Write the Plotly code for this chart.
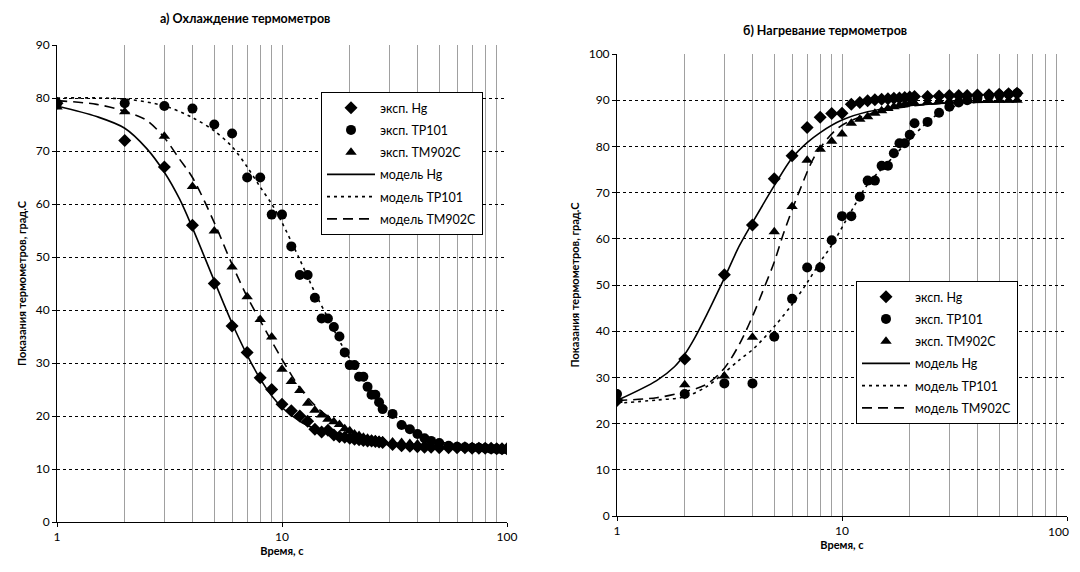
import plotly.graph_objects as go

# ---------------- data: a) cooling ----------------
t_cool = list(range(1, 29)) + [31, 34, 37, 40, 43, 46, 50, 55, 60, 65, 70, 75, 80, 85, 90, 95, 100]
hg_cool = [79, 72, 67, 56, 45, 37, 32, 27.2, 25, 22.2, 21, 20, 19, 17.5, 17, 17.3, 16.4, 16.1, 16, 15.8,
           15.6, 15.5, 15.4, 15.3, 15.3, 15.2, 15.1, 15,
           14.6, 14.4, 14.3, 14.2, 14.1, 14.1, 14.0, 14.0, 14.0, 14.0, 13.9, 13.9, 13.9, 13.9, 13.8, 13.8, 13.8]
tp_cool = [79, 79, 78.5, 78, 75, 73.3, 65, 65, 58, 58, 52, 46.6, 46.6, 42.3, 38.4, 38.4, 36.8, 35, 32, 29.6,
           29.6, 27.4, 27.4, 25.5, 24, 24, 22.6, 21.3,
           20.4, 18.3, 17.5, 16.6, 15.8, 15.3, 14.9, 14.4, 14.2, 14.1, 14.0, 14.0, 13.9, 13.8, 13.8, 13.7, 13.7]
tm_cool = [78.3, 77.4, 72.8, 63.3, 54.9, 48.1, 42.5, 38.2, 34.9, 28.8, 26.5, 24.8, 22.4, 21.1, 20.2, 19.4, 18.9,
           18.4, 17.6, 17.2, 16.6, 16.3, 16, 15.8, 15.6, 15.5, 15.4, 15.3,
           15.1, 15.0, 14.8, 14.7, 14.6, 14.5, 14.4, 14.3, 14.2, 14.2, 14.1, 14.1, 14.0, 14.0, 14.0, 13.9, 13.9]

tm_hg_cool = [1, 1.5, 2, 2.5, 3, 3.5, 4, 5, 6, 7, 8, 9, 10, 12, 14, 16, 20, 25, 30, 40, 50, 70, 100]
mod_hg_cool = [78.5, 76.5, 74.3, 70.5, 66, 61, 55.5, 45.5, 37.5, 31.5, 27, 23.8, 21.6, 19, 17.6, 16.7, 15.7,
               15, 14.6, 14.2, 14, 13.9, 13.8]
tm_tp_cool = [1, 2, 3, 4, 5, 6, 7, 8, 9, 10, 12, 14, 16, 18, 20, 25, 30, 35, 40, 50, 60, 80, 100]
mod_tp_cool = [80, 79.8, 78.5, 76.3, 73.8, 70.8, 67, 63.2, 60, 56.5, 49.5, 43.3, 38.5, 34.2, 30.8, 24.8, 21,
               18.5, 16.9, 15.2, 14.5, 14, 13.8]
tm_tm_cool = [1, 1.5, 2, 2.5, 3, 3.5, 4, 5, 6, 7, 8, 10, 12, 14, 16, 20, 25, 30, 40, 60, 100]
mod_tm_cool = [79.5, 78.8, 77.5, 75.8, 72.5, 68.5, 65, 56.5, 48.6, 42.5, 38, 30.7, 25.3, 22, 19.9, 17.3,
               15.8, 15.1, 14.5, 14.1, 13.8]

# ---------------- data: б) heating ----------------
t_heat = list(range(1, 21)) + [21, 24, 27, 30, 33, 36, 40, 45, 50, 55, 60]
hg_heat = [25, 34, 52.2, 63, 73, 78, 84.1, 86.3, 87.1, 87.2, 89.1, 89.5, 89.9, 90.1, 90.2, 90.3, 90.4, 90.5,
           90.6, 90.7, 90.8, 90.8, 90.9, 91, 91, 91, 91.1, 91.2, 91.3, 91.4, 91.5]
tp_heat = [26.4, 26.4, 28.7, 28.7, 38.8, 47, 53.8, 53.8, 59.7, 64.9, 64.9, 69.1, 72.6, 72.6, 75.8, 75.8, 78.5,
           80.7, 80.7, 82.5, 85, 85.3, 87.3, 88.6, 89.5, 90, 90.5, 90.9, 91.1, 91.3, 91.5]
tm_heat = [25, 28.4, 30.3, 38.7, 61.5, 67, 77, 79.4, 81.1, 82.7, 85, 85.9, 86.4, 87.2, 87.7, 88.2, 88.6, 88.9,
           89.1, 89.3, 89.4, 89.6, 89.8, 89.9, 90, 90, 90, 90, 90, 90, 90]

tm_hg_heat = [1, 1.5, 1.8, 2, 2.2, 2.5, 3, 3.5, 4, 5, 6, 7, 8, 10, 13, 18, 25, 35, 60]
mod_hg_heat = [25, 29.3, 32.3, 35, 38.3, 43.5, 51.5, 58.5, 63.5, 71.5, 77.5, 80.8, 83, 85.7, 87.5, 88.6, 89.2,
               89.5, 89.7]
tm_tp_heat = [1, 1.5, 2, 2.5, 3, 3.5, 4, 5, 6, 7, 8, 9, 11, 13, 16, 20, 25, 30, 40, 60]
mod_tp_heat = [24.4, 25.1, 25.8, 28, 31, 33.8, 36, 41, 45.8, 50.5, 55, 58.6, 66, 71.8, 76.5, 81.5, 86, 88.3,
               89.6, 90]
tm_tm_heat = [1, 1.5, 2, 2.5, 3, 3.5, 4, 4.5, 5, 5.5, 6.5, 7.7, 9.8, 12.9, 17, 20, 30, 60]
mod_tm_heat = [25, 25.6, 26.9, 28.5, 32, 37.2, 43.2, 49.3, 55, 61.2, 70.6, 78.5, 84.3, 86.8, 88.2, 88.7,
               89.4, 89.8]

x_ticks = [1, 10, 100]
x_ticklabels = ["1", "10", "100"]
names_exp = ["эксп. Hg", "эксп. TP101", "эксп. TM902C"]
names_mod = ["модель Hg", "модель TP101", "модель TM902C"]
symbols = ["diamond", "circle", "triangle-up"]
dashes = ["solid", "3px,4px", "10px,6px"]

FONT = "Lato"
OFF = 8                 # default body margin of the page
W, H = 1064, 555        # figure size so that the page fits the 1080x572 window

fig = go.Figure()

def add_panel(xa, ya, leg, exp_t, exp_vals, mod_ts, mod_vals):
    k = 0
    for name, sym, v in zip(names_exp, symbols, exp_vals):
        fig.add_trace(go.Scatter(x=exp_t, y=v, mode="markers", name=name, xaxis=xa, yaxis=ya, legend=leg,
                                 legendgroup=f"{leg}{k}",
                                 marker=dict(symbol=sym, size=10, color="black", line=dict(width=0))))
        k += 1
    for name, d, tt, v in zip(names_mod, dashes, mod_ts, mod_vals):
        fig.add_trace(go.Scatter(x=tt, y=v, mode="lines", name=name, xaxis=xa, yaxis=ya, legend=leg,
                                 legendgroup=f"{leg}{k}",
                                 line=dict(color="black", width=1.6, dash=d, shape="spline", smoothing=0.9)))
        k += 1

add_panel("x", "y", "legend", t_cool, [hg_cool, tp_cool, tm_cool],
          [tm_hg_cool, tm_tp_cool, tm_tm_cool], [mod_hg_cool, mod_tp_cool, mod_tm_cool])
add_panel("x2", "y2", "legend2", t_heat, [hg_heat, tp_heat, tm_heat],
          [tm_hg_heat, tm_tp_heat, tm_tm_heat], [mod_hg_heat, mod_tp_heat, mod_tm_heat])

minor_vals = [k * 10 ** e for e in range(0, 2) for k in range(2, 10)]

def xaxis(domain, anchor, ticktext):
    return dict(type="log", range=[0, 2], domain=domain, anchor=anchor, automargin=False,
                tickmode="array", tickvals=x_ticks, ticktext=ticktext,
                showgrid=True, gridcolor="#a0a0a0", gridwidth=1,
                minor=dict(tickmode="array", tickvals=minor_vals, showgrid=True, gridcolor="#a0a0a0",
                           gridwidth=1, ticks=""),
                showline=True, linecolor="black", linewidth=1, ticks="outside", ticklen=4,
                tickcolor="black", zeroline=False,
                tickfont=dict(family=FONT, size=12, color="black"),
                title=dict(text="<b>Время, с</b>", font=dict(family=FONT, size=11, color="black"), standoff=2))

def yaxis(domain, anchor, top):
    return dict(range=[0, top], domain=domain, anchor=anchor, dtick=10, tick0=0, automargin=False,
                showgrid=True, gridcolor="black", gridwidth=1, griddash="dot",
                showline=True, linecolor="black", linewidth=1, ticks="outside", ticklen=4,
                tickcolor="black", zeroline=False,
                tickfont=dict(family=FONT, size=12, color="black"),
                title=dict(text="<b>Показания термометров, град.С</b>",
                           font=dict(family=FONT, size=11, color="black"), standoff=6))

# plot-area boxes in window pixels (left, right, top, bottom)
L = (57, 507, 45, 522)
R = (617, 1067, 54, 516)

def px(x):
    return (x - OFF) / W

def py(y):
    return 1 - (y - OFF) / H

def dom_x(b):
    return [px(b[0]), px(b[1])]

def dom_y(b):
    return [py(b[3]), py(b[2])]

legend_common = dict(bgcolor="white", bordercolor="black", borderwidth=1,
                     font=dict(family=FONT, size=12.5, color="black"),
                     xanchor="left", yanchor="top", itemwidth=48, tracegroupgap=3)

right_ticktext = x_ticklabels[:2] + [""]

fig.update_layout(
    width=W, height=H, margin=dict(l=0, r=0, t=0, b=0, autoexpand=False),
    paper_bgcolor="white", plot_bgcolor="white",
    xaxis=xaxis(dom_x(L), "y", x_ticklabels), yaxis=yaxis(dom_y(L), "x", 90),
    xaxis2=xaxis(dom_x(R), "y2", right_ticktext), yaxis2=yaxis(dom_y(R), "x2", 100),
    legend=dict(x=px(321), y=py(92), **legend_common),
    legend2=dict(x=px(856), y=py(281), **legend_common),
    annotations=[
        dict(text="<b>а) Охлаждение термометров</b>", x=px(245), y=py(9), xref="paper", yref="paper",
             showarrow=False, font=dict(family=FONT, size=12.5, color="black"), xanchor="center", yanchor="top"),
        dict(text="<b>б) Нагревание термометров</b>", x=px(825), y=py(30), xref="paper", yref="paper",
             showarrow=False, font=dict(family=FONT, size=12.5, color="black"), xanchor="center", yanchor="middle"),
        dict(text=x_ticklabels[2], x=1.0, y=py(531), xref="paper", yref="paper", showarrow=False,
             font=dict(family=FONT, size=12, color="black"), xanchor="right", yanchor="middle", xshift=-1),
    ],
    showlegend=True,
)

fig.write_html("out.html")
